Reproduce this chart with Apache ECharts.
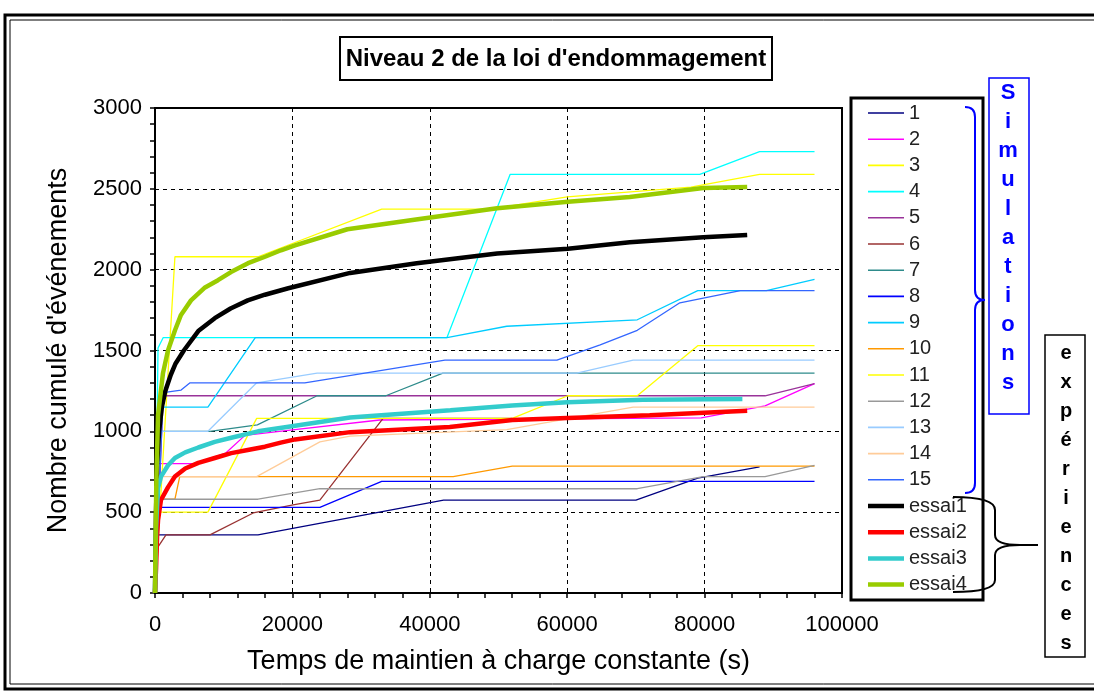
<!DOCTYPE html>
<html>
<head>
<meta charset="utf-8">
<script src="https://cdn.jsdelivr.net/npm/echarts@6/dist/echarts.min.js"></script>
<style>
  html, body { margin: 0; padding: 0; background: #fff; }
  #chart { width: 1094px; height: 691px; }
</style>
</head>
<body>
<div id="chart"></div>
<script>
// Time (s) / cumulative event count pairs for each simulation run
const sim1  = [[0,0],[300,360],[15000,360],[42000,575],[70000,575],[79000,710],[88000,780]];
const sim2  = [[0,0],[440,800],[5800,800],[10300,866],[13100,975],[19700,1008],[32700,1070],[79500,1083],[88800,1157],[96000,1295]];
const sim3  = [[0,0],[2900,2080],[15000,2080],[33000,2375],[48800,2375],[60000,2450],[78000,2510],[88000,2590],[96000,2590]];
const sim4  = [[0,0],[440,1515],[1200,1580],[42500,1580],[51700,2590],[79300,2590],[88000,2730],[96000,2730]];
const sim5  = [[0,0],[1200,1220],[88800,1220],[96000,1295]];
const sim6  = [[0,0],[440,285],[1600,360],[8000,360],[14300,495],[20100,545],[24000,575],[33200,1080],[52000,1080]];
const sim7  = [[0,0],[440,1000],[8000,1000],[14900,1040],[23600,1220],[33600,1220],[41900,1360],[96000,1360]];
const sim8  = [[0,0],[440,530],[24000,530],[33000,690],[96000,690]];
const sim9  = [[0,0],[800,1150],[7700,1150],[14600,1580],[42500,1580],[51200,1650],[70200,1690],[79000,1870],[89000,1870],[96000,1940]];
const sim10 = [[0,0],[500,580],[2900,580],[3600,720],[43400,720],[52000,785],[96000,785]];
const sim11 = [[0,0],[440,500],[7700,500],[14800,1080],[52000,1080],[60100,1220],[70200,1220],[79000,1530],[96000,1530]];
const sim12 = [[0,0],[440,580],[15000,580],[24000,645],[70200,645],[79800,720],[88800,720],[96000,790]];
const sim13 = [[0,0],[440,1000],[7700,1000],[14800,1300],[23600,1360],[61400,1360],[69600,1440],[96000,1440]];
const sim14 = [[0,0],[440,720],[14800,720],[24000,935],[28400,970],[51200,1010],[69600,1150],[96000,1150]];
const sim15 = [[0,0],[1200,1240],[3800,1255],[5100,1300],[21800,1300],[42200,1440],[58500,1440],[64800,1535],[70200,1625],[76400,1795],[85200,1870],[96000,1870]];

// Measured acoustic emission counts for the four tests
const essai1 = [[0,0],[150,500],[300,800],[600,1000],[1000,1150],[1500,1250],[2300,1350],[3000,1420],[4200,1500],[6300,1620],[8700,1700],[11000,1760],[13500,1810],[16000,1845],[19400,1885],[28400,1980],[38100,2040],[49800,2100],[60100,2130],[69100,2170],[79800,2200],[86200,2215]];
const essai2 = [[0,0],[150,150],[300,350],[440,450],[870,575],[1900,655],[2900,720],[4400,770],[6300,805],[8700,835],[11100,865],[13500,885],[16000,905],[18300,930],[20400,950],[28400,995],[42900,1027],[52000,1070],[60000,1083],[72000,1100],[86200,1128]];
const essai3 = [[0,0],[150,400],[290,530],[440,650],[870,720],[1900,790],[2900,835],[4400,870],[6300,900],[8700,935],[11100,960],[15000,1000],[20400,1035],[28400,1085],[43000,1130],[52000,1160],[60000,1180],[71000,1195],[85500,1200]];
const essai4 = [[0,0],[100,400],[200,700],[440,1100],[1160,1360],[1890,1500],[2910,1625],[3780,1720],[5240,1810],[7280,1890],[9170,1935],[11060,1985],[13540,2040],[16010,2080],[18340,2120],[20380,2150],[28000,2250],[38000,2310],[49800,2380],[60100,2420],[69100,2450],[79800,2505],[86200,2512]];

const simNames  = ['1','2','3','4','5','6','7','8','9','10','11','12','13','14','15'];
const simData   = [sim1, sim2, sim3, sim4, sim5, sim6, sim7, sim8, sim9, sim10, sim11, sim12, sim13, sim14, sim15];
const simColors = ['#000080','#FF00FF','#FFFF00','#00FFFF','#993399','#993333','#2E8B8B','#0000FF','#00CCFF','#FF9900','#FFFF00','#999999','#99CCFF','#FFCC99','#3366FF'];

const testNames  = ['essai1','essai2','essai3','essai4'];
const testData   = [essai1, essai2, essai3, essai4];
const testColors = ['#000000','#FF0000','#33CCCC','#99CC00'];

const xTicks = { min: 0, max: 100000, step: 20000 };
const yTicks = { min: 0, max: 3000, step: 500 };

const FONT = '"Liberation Sans", Arial, sans-serif';
const SIM_W = 1.3, TEST_W = 4.5;

const series = [];
simData.forEach((d, i) => series.push({
  name: simNames[i], type: 'line', data: d, symbol: 'none',
  lineStyle: { color: simColors[i], width: SIM_W }, itemStyle: { color: simColors[i] },
  z: 2
}));
testData.forEach((d, i) => series.push({
  name: testNames[i], type: 'line', data: d, symbol: 'none',
  lineStyle: { color: testColors[i], width: TEST_W }, itemStyle: { color: testColors[i] },
  z: 3
}));

// legend keys drawn as plain line strokes of the series' thickness
const barIcon = h => 'path://M0,0L36,0L36,' + h + 'L0,' + h + 'Z';
const legendData = simNames.map(n => ({ name: n, icon: barIcon(1.6) }))
  .concat(testNames.map(n => ({ name: n, icon: barIcon(4.5) })));

function letters(word, cx, y0, gap, font, color) {
  return word.split('').map((ch, k) => ({
    type: 'text', z: 20,
    style: { x: cx, y: y0 + k * gap, text: ch, font: font, fill: color,
             textAlign: 'center', textVerticalAlign: 'middle' }
  }));
}

// curly brace built from straight segments and quadratic curves
function seg(x1, y1, x2, y2, color) {
  return { type: 'line', z: 12, shape: { x1, y1, x2, y2 }, style: { stroke: color, lineWidth: 2 } };
}
function curve(x1, y1, cx, cy, x2, y2, color) {
  return { type: 'bezierCurve', z: 12, shape: { x1, y1, x2, y2, cpx1: cx, cpy1: cy }, style: { stroke: color, lineWidth: 2, fill: 'none' } };
}
const blue = '#0000FF';
const blueBrace = [
  curve(965, 107, 975, 107, 975, 117, blue), seg(975, 117, 975, 290, blue),
  curve(975, 290, 975, 300, 985, 300, blue), curve(985, 300, 975, 300, 975, 310, blue),
  seg(975, 310, 975, 483, blue), curve(975, 483, 975, 493, 965, 493, blue)
];
const blackBrace = [
  curve(953, 497, 995, 497, 995, 510, '#000'), seg(995, 510, 995, 535, '#000'),
  curve(995, 535, 995, 545, 1020, 545, '#000'), seg(1020, 545, 1038, 545, '#000'),
  curve(1020, 545, 995, 545, 995, 555, '#000'), seg(995, 555, 995, 580, '#000'),
  curve(995, 580, 995, 592, 953, 592, '#000')
];

const axisCommon = {
  nameLocation: 'middle',
  nameTextStyle: { fontSize: 27, color: '#000', fontFamily: FONT },
  axisLine: { show: true, lineStyle: { color: '#000', width: 2 } },
  axisTick: { show: true, length: 5, lineStyle: { color: '#000', width: 1.5 } },
  minorTick: { show: true, splitNumber: 5, length: 5, lineStyle: { color: '#000', width: 1.5 } },
  splitLine: { show: true, lineStyle: { color: '#000', type: [4, 4], width: 1 } }
};

const chart = echarts.init(document.getElementById('chart'), null, { renderer: 'canvas' });
chart.setOption({
  animation: false,
  backgroundColor: '#fff',
  textStyle: { fontFamily: FONT },
  grid: { left: 155, right: 252, top: 108, bottom: 98, show: true, borderColor: '#000', borderWidth: 2, backgroundColor: '#fff' },
  xAxis: Object.assign({}, axisCommon, {
    type: 'value', min: xTicks.min, max: xTicks.max, interval: xTicks.step,
    name: 'Temps de maintien à charge constante (s)', nameGap: 55,
    axisLabel: { fontSize: 22, color: '#000', margin: 21, fontFamily: FONT, formatter: v => String(v) }
  }),
  yAxis: Object.assign({}, axisCommon, {
    type: 'value', min: yTicks.min, max: yTicks.max, interval: yTicks.step,
    name: "Nombre cumulé d'événements", nameGap: 83,
    axisLabel: { fontSize: 22, color: '#000', margin: 13, fontFamily: FONT, formatter: v => String(v) }
  }),
  legend: {
    data: legendData,
    orient: 'vertical', left: 868, top: 103, padding: 0,
    itemWidth: 36, itemHeight: 14, itemGap: 6.2,
    textStyle: { fontSize: 20, color: '#222', fontFamily: FONT },
    itemStyle: { borderWidth: 0 },
    lineStyle: { width: 0 },
    selectedMode: false
  },
  series: series,
  graphic: [
    // outer double frame
    { type: 'rect', z: -10, silent: true, shape: { x: 5, y: 15, width: 1100, height: 674 }, style: { fill: 'none', stroke: '#000', lineWidth: 3 } },
    { type: 'rect', z: -10, silent: true, shape: { x: 10, y: 20, width: 1090, height: 664 }, style: { fill: 'none', stroke: '#000', lineWidth: 1 } },
    // title box
    { type: 'rect', z: 10, shape: { x: 340, y: 37, width: 432, height: 43 }, style: { fill: '#fff', stroke: '#000', lineWidth: 2 } },
    { type: 'text', z: 11, style: { x: 556, y: 59, text: "Niveau 2 de la loi d'endommagement", font: 'bold 24px ' + FONT, fill: '#000',
      textAlign: 'center', textVerticalAlign: 'middle' } },
    // legend frame
    { type: 'rect', z: 1, shape: { x: 851, y: 98, width: 132, height: 502 }, style: { fill: 'none', stroke: '#000', lineWidth: 3 } },
    ...blueBrace,
    { type: 'rect', z: 10, shape: { x: 989, y: 78, width: 40, height: 336 }, style: { fill: '#fff', stroke: blue, lineWidth: 1.5 } },
    ...letters('Simulations', 1008, 93, 29, 'bold 22px ' + FONT, blue),
    ...blackBrace,
    { type: 'rect', z: 10, shape: { x: 1045, y: 335, width: 40, height: 322 }, style: { fill: '#fff', stroke: '#000', lineWidth: 1.5 } },
    ...letters('expériences', 1066, 353, 29, 'bold 20px ' + FONT, '#000')
  ]
});
</script>
</body>
</html>
